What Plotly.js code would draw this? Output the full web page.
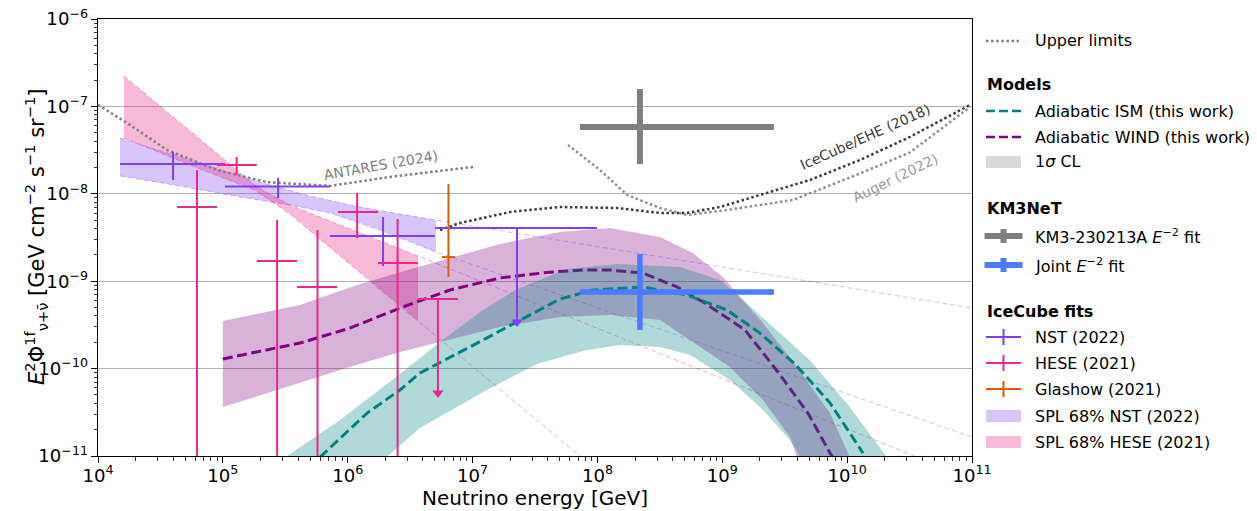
<!DOCTYPE html>
<html><head><meta charset="utf-8">
<script src="https://cdn.plot.ly/plotly-3.0.1.min.js"></script>
<style>html,body{margin:0;padding:0;background:#fff}#plot{width:1257px;height:511px}</style>
</head><body><div id="plot"></div><script>
// ---------------- DATA ----------------
// Upper limits (E in GeV, E^2 Phi in GeV cm^-2 s^-1 sr^-1)
const ANTARES_E = [1e4, 1.71e4, 3.57e4, 8.98e4, 2.26e5, 7.21e5, 2.18e6, 1.01e7];
const ANTARES_F = [1.04e-7, 6.46e-8, 3.17e-8, 1.87e-8, 1.36e-8, 1.23e-8, 1.56e-8, 2.03e-8];
const EHE_E = [5.48e6, 7.93e6, 2.00e7, 5.01e7, 1.44e8, 3.17e8, 5.21e8, 9.59e8, 2.00e9, 5.04e9, 1.27e10, 3.18e10, 9.64e10];
const EHE_F = [3.85e-9, 4.63e-9, 6.19e-9, 7.06e-9, 6.88e-9, 6.03e-9, 6.03e-9, 7.06e-9, 9.68e-9, 1.44e-8, 2.44e-8, 4.47e-8, 1.04e-7];
const AUGER_E = [5.81e7, 1.05e8, 1.73e8, 3.17e8, 5.21e8, 1.09e9, 3.68e9, 1.27e10, 3.18e10, 9.64e10];
const AUGER_F = [3.62e-8, 1.87e-8, 9.68e-9, 6.88e-9, 5.72e-9, 6.53e-9, 8.49e-9, 1.71e-8, 2.97e-8, 9.84e-8];

// Models: adiabatic WIND
const WIND_E = [1.00e5, 4.15e5, 1.04e6, 2.62e6, 6.59e6, 1.66e7, 4.17e7, 7.66e7, 1.26e8, 2.32e8, 4.34e8, 7.26e8, 1.52e9, 2.79e9, 4.85e9, 7.29e9, 8.15e9];
const WIND_F = [1.29e-10, 1.96e-10, 2.91e-10, 4.93e-10, 7.93e-10, 1.09e-9, 1.27e-9, 1.34e-9, 1.34e-9, 1.24e-9, 8.59e-10, 5.62e-10, 2.77e-10, 9.15e-11, 3.10e-11, 1.08e-11, 8.5e-12];
const WIND_UP_E = [1.00e5, 4.15e5, 1.19e6, 2.62e6, 6.59e6, 1.66e7, 5.01e7, 1.26e8, 3.17e8, 5.82e8, 1.01e9, 2.12e9, 3.96e9, 7.29e9, 1.05e10];
const WIND_UP_F = [3.51e-10, 5.34e-10, 9.05e-10, 1.27e-9, 1.84e-9, 2.67e-9, 3.66e-9, 4.06e-9, 3.21e-9, 2.10e-9, 1.12e-9, 3.32e-10, 1.04e-10, 3.10e-11, 9.7e-12];
const WIND_LO_E = [1.00e5, 4.15e5, 1.04e6, 2.62e6, 5.48e6, 1.66e7, 5.01e7, 1.26e8, 3.17e8, 5.51e8, 1.15e9, 2.12e9, 3.48e9, 3.96e9];
const WIND_LO_F = [3.63e-11, 6.84e-11, 1.04e-10, 1.55e-10, 2.01e-10, 2.99e-10, 3.89e-10, 4.10e-10, 3.60e-10, 2.12e-10, 1.04e-10, 4.37e-11, 1.65e-11, 9.7e-12];

// Models: adiabatic ISM
const ISM_E = [6.00e5, 1.43e6, 2.62e6, 3.79e6, 9.53e6, 2.40e7, 5.01e7, 9.20e7, 2.32e8, 5.21e8, 1.09e9, 2.00e9, 3.82e9, 7.29e9, 1.34e10];
const ISM_F = [9.7e-12, 3.10e-11, 5.69e-11, 8.91e-11, 1.77e-10, 3.60e-10, 6.25e-10, 7.93e-10, 8.59e-10, 6.95e-10, 4.68e-10, 2.55e-10, 1.13e-10, 4.04e-11, 1.08e-11];
const ISM_UP_E = [3.27e5, 8.67e5, 2.62e6, 5.48e6, 1.15e7, 2.19e7, 5.70e7, 1.44e8, 4.58e8, 9.59e8, 2.00e9, 5.04e9, 1.05e10, 2.08e10];
const ISM_UP_F = [1.00e-11, 2.58e-11, 8.67e-11, 2.01e-10, 4.44e-10, 7.93e-10, 1.38e-9, 1.57e-9, 1.45e-9, 1.03e-9, 4.10e-10, 1.25e-10, 3.63e-11, 9.7e-12];
const ISM_LO_E = [2.10e6, 3.79e6, 1.30e7, 3.28e7, 8.24e7, 1.52e8, 3.17e8, 5.51e8, 1.15e9, 2.12e9, 3.48e9, 4.19e9];
const ISM_LO_F = [1.00e-11, 2.09e-11, 5.69e-11, 1.13e-10, 1.63e-10, 1.86e-10, 1.77e-10, 1.43e-10, 7.40e-11, 3.36e-11, 1.52e-11, 1.00e-11];

// IceCube single power-law 68% bands (solid part) and their dashed extrapolations
const SPL_NST_UP_E = [1.50e4, 6.56e4, 1.98e5, 4.99e5, 1.25e6, 2.62e6, 5.09e6];
const SPL_NST_UP_F = [4.35e-8, 2.25e-8, 1.36e-8, 9.43e-9, 7.06e-9, 5.87e-9, 5.01e-9];
const SPL_NST_LO_E = [1.50e4, 4.54e4, 1.37e5, 3.45e5, 7.21e5, 1.81e6, 5.09e6];
const SPL_NST_LO_F = [1.60e-8, 1.23e-8, 9.19e-9, 7.44e-9, 6.03e-9, 3.85e-9, 2.16e-9];
const SPL_NST_EXT_E = [1e11, 1e11];           // [upper, lower] end points
const SPL_NST_EXT_F = [4.93e-10, 1.65e-11];
const SPL_HESE_UP_E = [1.61e4, 6.56e4, 1.81e5, 2.30e5, 3.45e5, 8.67e5, 3.66e6];
const SPL_HESE_UP_F = [2.23e-7, 4.23e-8, 1.26e-8, 1.02e-8, 7.44e-9, 4.40e-9, 1.94e-9];
const SPL_HESE_LO_E = [1.61e4, 6.56e4, 1.81e5, 2.30e5, 3.45e5, 8.67e5, 3.66e6];
const SPL_HESE_LO_F = [4.35e-8, 1.92e-8, 1.10e-8, 8.71e-9, 5.87e-9, 1.94e-9, 3.51e-10];
const SPL_HESE_EXT_E = [3.46e10, 7.24e7];
const SPL_HESE_EXT_F = [1.0e-11, 1.0e-11];

// IceCube NST (2022) segmented fit
const NST_E = [3.99e4, 2.77e5, 1.92e6];
const NST_E_LO = [1.50e4, 1.04e5, 7.21e5];
const NST_E_HI = [1.04e5, 7.21e5, 5.0e6];
const NST_F = [2.19e-8, 1.21e-8, 3.29e-9];
const NST_F_LO = [1.44e-8, 8.95e-9, 1.49e-9];
const NST_F_HI = [3.01e-8, 1.52e-8, 5.42e-9];
const NST_UL_E = [2.27e7], NST_UL_E_LO = [5.0e6], NST_UL_E_HI = [9.91e7];
const NST_UL_F = [4.06e-9], NST_UL_TIP = [3.41e-10];

// IceCube HESE (2021) segmented fit (lower bound 1e-12 = extends below the plot)
const HESE_E = [6.21e4, 1.29e5, 2.72e5, 5.73e5, 1.19e6, 2.51e6];
const HESE_E_LO = [4.30e4, 8.98e4, 1.87e5, 3.93e5, 8.36e5, 1.75e6];
const HESE_E_HI = [8.98e4, 1.87e5, 3.93e5, 8.20e5, 1.75e6, 3.66e6];
const HESE_F = [7.06e-9, 2.13e-8, 1.70e-9, 8.59e-10, 6.19e-9, 1.61e-9];
const HESE_F_LO = [1e-12, 1.64e-8, 1e-12, 1e-12, 3.12e-9, 1e-12];
const HESE_F_HI = [1.87e-8, 2.64e-8, 5.00e-9, 3.85e-9, 1.02e-8, 5.15e-9];
const HESE_UL_E = [5.28e6], HESE_UL_E_LO = [3.66e6], HESE_UL_E_HI = [7.64e6];
const HESE_UL_F = [6.25e-10], HESE_UL_TIP = [5.26e-11];

// Glashow (2021)
const GLA_E = [6.41e6], GLA_E_LO = [5.69e6], GLA_E_HI = [7.23e6];
const GLA_F = [1.89e-9], GLA_F_LO = [1.12e-9], GLA_F_HI = [1.29e-8];

// KM3NeT
const KM3_E = [2.19e8], KM3_E_LO = [7.24e7], KM3_E_HI = [2.59e9];
const KM3_F = [5.81e-8], KM3_F_LO = [2.19e-8], KM3_F_HI = [1.58e-7];
const JOINT_E = [2.19e8], JOINT_E_LO = [7.24e7], JOINT_E_HI = [2.59e9];
const JOINT_F = [7.52e-10], JOINT_F_LO = [2.77e-10], JOINT_F_HI = [2.05e-9];

// ---------------- STYLE ----------------
const C = {nst:'#7f3ff0', hese:'#e7298a', gla:'#d95f02', km3:'#7f7f7f', joint:'#4b7bff',
           ism:'#008080', wind:'#800080'};
const FONT = 'DejaVu Sans, Liberation Sans, sans-serif';
const DOT = '2.5px,2.6px', MDASH = '10px,4.5px', TDASH = '5px,3px';

function band(upE, upF, loE, loF, fill) {
  return {x: upE.concat(loE.slice().reverse()), y: upF.concat(loF.slice().reverse()),
    mode:'lines', fill:'toself', fillcolor: fill, line:{width:0}, hoverinfo:'skip', showlegend:false};
}
function line(E, F, color, width, dash) {
  return {x:E, y:F, mode:'lines', line:{color, width, dash}, hoverinfo:'skip', showlegend:false};
}
function crosses(E, Elo, Ehi, F, Flo, Fhi, color, width) {
  const x = [], y = [];
  for (let i = 0; i < E.length; i++) {
    x.push(Elo[i], Ehi[i], null, E[i], E[i], null);
    y.push(F[i], F[i], null, Flo[i], Fhi[i], null);
  }
  return {x, y, mode:'lines', line:{color, width}, hoverinfo:'skip', showlegend:false};
}
function ulimits(E, Elo, Ehi, F, tip, color, width) {
  const tr = crosses(E, Elo, Ehi, F, tip, F, color, width);
  const head = {x:E, y:tip, mode:'markers', marker:{symbol:'triangle-down', size:10, color},
    hoverinfo:'skip', showlegend:false};
  return [tr, head];
}

const traces = [];
// IceCube SPL bands
traces.push(band(SPL_NST_UP_E, SPL_NST_UP_F, SPL_NST_LO_E, SPL_NST_LO_F, 'rgba(127,63,240,0.30)'));
traces.push(band(SPL_HESE_UP_E, SPL_HESE_UP_F, SPL_HESE_LO_E, SPL_HESE_LO_F, 'rgba(231,41,138,0.33)'));
// band edges + extrapolations (thin dashed)
traces.push(line(SPL_NST_UP_E.concat([SPL_NST_EXT_E[0]]), SPL_NST_UP_F.concat([SPL_NST_EXT_F[0]]), 'rgba(127,63,240,0.35)', 1, TDASH));
traces.push(line(SPL_NST_LO_E.concat([SPL_NST_EXT_E[1]]), SPL_NST_LO_F.concat([SPL_NST_EXT_F[1]]), 'rgba(127,63,240,0.35)', 1, TDASH));
traces.push(line(SPL_HESE_UP_E.concat([SPL_HESE_EXT_E[0]]), SPL_HESE_UP_F.concat([SPL_HESE_EXT_F[0]]), 'rgba(231,41,138,0.40)', 1, TDASH));
traces.push(line(SPL_HESE_LO_E.concat([SPL_HESE_EXT_E[1]]), SPL_HESE_LO_F.concat([SPL_HESE_EXT_F[1]]), 'rgba(231,41,138,0.40)', 1, TDASH));
// Upper limits
traces.push(line(ANTARES_E, ANTARES_F, '#808080', 2.5, DOT));
traces.push(line(EHE_E, EHE_F, '#3a3a3a', 2.5, DOT));
traces.push(line(AUGER_E, AUGER_F, '#8f8f8f', 2.5, DOT));
// Models
traces.push(band(WIND_UP_E, WIND_UP_F, WIND_LO_E, WIND_LO_F, 'rgba(128,0,128,0.30)'));
traces.push(line(WIND_E, WIND_F, C.wind, 3, MDASH));
traces.push(band(ISM_UP_E, ISM_UP_F, ISM_LO_E, ISM_LO_F, 'rgba(0,128,128,0.30)'));
traces.push(line(ISM_E, ISM_F, C.ism, 3, MDASH));
// IceCube fits
traces.push(crosses(NST_E, NST_E_LO, NST_E_HI, NST_F, NST_F_LO, NST_F_HI, C.nst, 2));
traces.push(...ulimits(NST_UL_E, NST_UL_E_LO, NST_UL_E_HI, NST_UL_F, NST_UL_TIP, C.nst, 2));
traces.push(crosses(HESE_E, HESE_E_LO, HESE_E_HI, HESE_F, HESE_F_LO, HESE_F_HI, C.hese, 2));
traces.push(...ulimits(HESE_UL_E, HESE_UL_E_LO, HESE_UL_E_HI, HESE_UL_F, HESE_UL_TIP, C.hese, 2));
traces.push(crosses(GLA_E, GLA_E_LO, GLA_E_HI, GLA_F, GLA_F_LO, GLA_F_HI, C.gla, 2));
// KM3NeT
traces.push(crosses(KM3_E, KM3_E_LO, KM3_E_HI, KM3_F, KM3_F_LO, KM3_F_HI, C.km3, 6));
traces.push(crosses(JOINT_E, JOINT_E_LO, JOINT_E_HI, JOINT_F, JOINT_F_LO, JOINT_F_HI, C.joint, 5.5));

// ---------------- LAYOUT ----------------
const L = 98, R = 972, T = 19, B = 456;
const px = v => (v - L) / (R - L);
const py = v => 1 - (v - T) / (B - T);

const shapes = [], annotations = [];
function txt(xp, yp, text, opts) {
  annotations.push(Object.assign({xref:'paper', yref:'paper', x:px(xp), y:py(yp), text, showarrow:false,
    xanchor:'left', yanchor:'middle', font:{family:FONT, size:16, color:'#000'}}, opts || {}));
}
function sline(x0, y0, x1, y1, color, width, dash) {
  shapes.push({type:'line', xref:'paper', yref:'paper', x0:px(x0), y0:py(y0), x1:px(x1), y1:py(y1),
    line:{color, width, dash: dash || 'solid'}});
}
function srect(x0, y0, x1, y1, color) {
  shapes.push({type:'rect', xref:'paper', yref:'paper', x0:px(x0), y0:py(y0), x1:px(x1), y1:py(y1),
    fillcolor:color, line:{width:0}});
}
const SX0 = 986, SX1 = 1021, SXM = 1003.5, TX = 1033, HX = 985;
const legendRows = [
  {y:41,  kind:'line', color:'#808080', w:2.5, dash:DOT, text:'Upper limits'},
  {y:85,  kind:'head', text:'Models'},
  {y:111, kind:'line', color:C.ism, w:2.5, dash:'9px,4px', text:'Adiabatic ISM (this work)'},
  {y:137, kind:'line', color:C.wind, w:2.5, dash:'9px,4px', text:'Adiabatic WIND (this work)'},
  {y:162, kind:'box', color:'rgba(128,128,128,0.30)', text:'1<i>σ</i> CL'},
  {y:208, kind:'head', text:'KM3NeT'},
  {y:236, kind:'cross', color:C.km3, w:6, h:7, text:'KM3-230213A <i>E</i><sup>−2</sup> fit'},
  {y:265, kind:'cross', color:C.joint, w:6, h:7, text:'Joint <i>E</i><sup>−2</sup> fit'},
  {y:311, kind:'head', text:'IceCube fits'},
  {y:337, kind:'cross', color:C.nst, w:2, h:8, text:'NST (2022)'},
  {y:363, kind:'cross', color:C.hese, w:2, h:8, text:'HESE (2021)'},
  {y:389, kind:'cross', color:C.gla, w:2, h:8, text:'Glashow (2021)'},
  {y:416, kind:'box', color:'rgba(127,63,240,0.30)', text:'SPL 68% NST (2022)'},
  {y:442, kind:'box', color:'rgba(231,41,138,0.33)', text:'SPL 68% HESE (2021)'}
];
legendRows.forEach(r => {
  if (r.kind === 'head') { txt(HX, r.y, '<b>' + r.text + '</b>'); return; }
  if (r.kind === 'line') sline(SX0, r.y, SX1, r.y, r.color, r.w, r.dash);
  if (r.kind === 'box') srect(SX0, r.y - 6, SX1, r.y + 6, r.color);
  if (r.kind === 'cross') {
    const ext = r.w > 3 ? 1.5 : 0;
    sline(SX0 - ext, r.y, SX1 + ext, r.y, r.color, r.w);
    sline(SXM, r.y - r.h, SXM, r.y + r.h, r.color, r.w);
  }
  txt(TX, r.y, r.text);
});
// in-plot labels
txt(381, 165, 'ANTARES (2024)', {xanchor:'center', textangle:-10, font:{family:FONT, size:14, color:'#808080'}});
txt(865, 137, 'IceCube/EHE (2018)', {xanchor:'center', textangle:-24, font:{family:FONT, size:14, color:'#3a3a3a'}});
txt(895, 178, 'Auger (2022)', {xanchor:'center', textangle:-26, font:{family:FONT, size:14, color:'#9a9a9a'}});
// axis titles
txt(36, 237, '<i>E</i><sup>2</sup>Φ<sup>1f</sup><sub>ν+ν̄</sub> [GeV cm<sup>−2</sup> s<sup>−1</sup> sr<sup>−1</sup>]',
  {xanchor:'center', textangle:-90, font:{family:FONT, size:21, color:'#000'}});
txt(535, 511, 'Neutrino energy [GeV]', {xanchor:'center', yanchor:'bottom', borderpad:0,
  font:{family:FONT, size:20, color:'#000'}});

const axisCommon = {type:'log', dtick:1, exponentformat:'power', showline:true, linecolor:'#000', linewidth:1,
  mirror:true, ticks:'outside', ticklen:6, tickwidth:1, tickcolor:'#000', zeroline:false,
  tickfont:{family:FONT, size:14.5, color:'#000'},
  minor:{ticks:'outside', ticklen:3.5, tickwidth:0.8, tickcolor:'#000', dtick:'D1', showgrid:false}};

const layout = {
  width:1257, height:511, margin:{l:L, r:1257 - R, t:T, b:511 - B},
  paper_bgcolor:'#fff', plot_bgcolor:'#fff', showlegend:false,
  font:{family:FONT, color:'#000'},
  xaxis: Object.assign({}, axisCommon, {range:[4, 11], showgrid:false, ticklabelstandoff:-2}),
  yaxis: Object.assign({}, axisCommon, {range:[-11, -6], showgrid:true, gridcolor:'#b0b0b0', gridwidth:1}),
  shapes, annotations
};
Plotly.newPlot('plot', traces, layout, {staticPlot:true, displayModeBar:false});
</script></body></html>
